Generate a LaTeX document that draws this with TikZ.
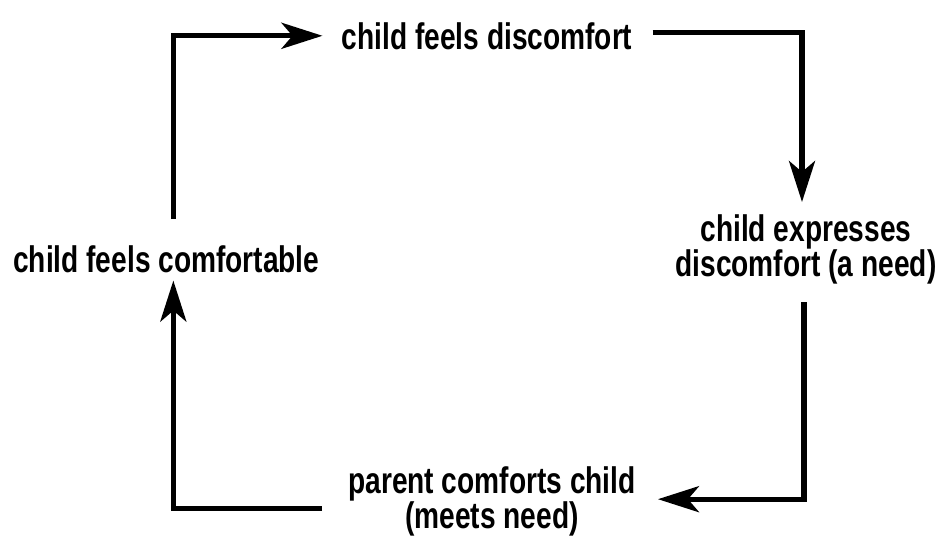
\documentclass[tikz,border=0pt]{standalone}
\usepackage{fontspec}
\setmainfont{Liberation Sans}[FakeStretch=0.76]
\usetikzlibrary{arrows.meta}
\begin{document}
\begin{tikzpicture}[x=1pt,y=-1pt,
  lbl/.style={inner sep=0pt, align=center, font=\fontsize{37}{31}\selectfont\bfseries},
  conn/.style={line width=5.2pt, -{Stealth[length=41pt,width=26pt,inset=11pt]}}]
\fill[white] (0,0) rectangle (937,541);
\useasboundingbox (0,0) rectangle (937,541);
\node[lbl, anchor=north] (disc) at (487,22) {child feels discomfort};
\node[lbl, anchor=north] (expr) at (806,214) {child expresses\\discomfort (a need)};
\node[lbl, anchor=north] (par) at (492,466) {parent comforts child\\(meets need)};
\node[lbl, anchor=north west] (comf) at (13,245) {child feels comfortable};
\draw[conn] ([shift={(20pt,3pt)}]disc.east) -| ([xshift=-4pt,yshift=12pt]expr.north);
\draw[conn] ([xshift=-2pt,yshift=-18pt]expr.south) |- ([xshift=22pt,yshift=2pt]par.east);
\draw[conn] ([shift={(-26pt,-7pt)}]par.west) -| ([xshift=7pt,yshift=-8pt]comf.south);
\draw[conn] ([xshift=7pt,yshift=26pt]comf.north) |- ([xshift=-19pt]disc.west);
\end{tikzpicture}
\end{document}
